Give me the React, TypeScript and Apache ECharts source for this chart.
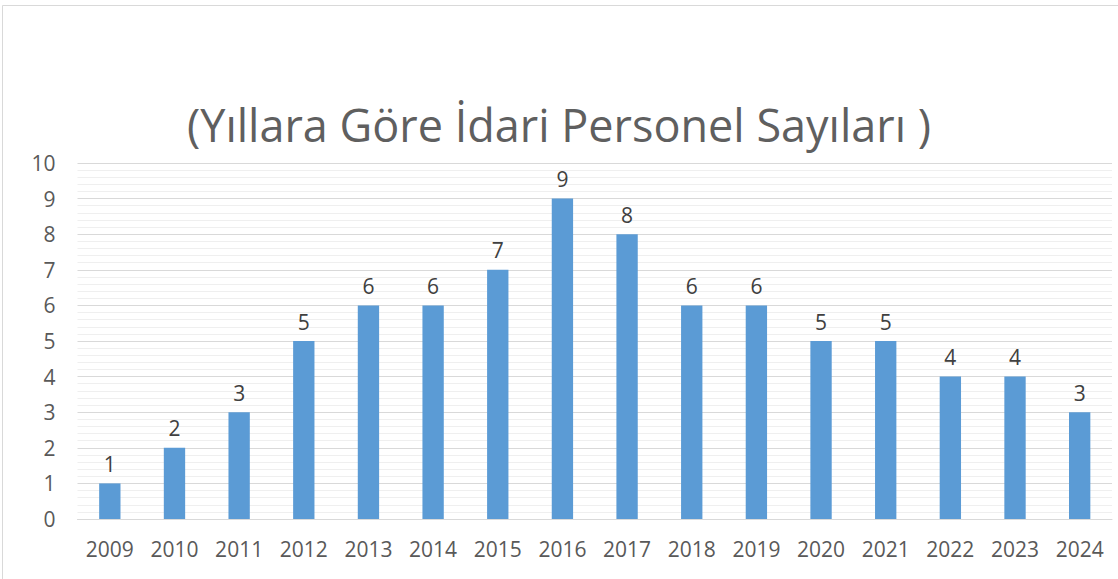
import React, { useEffect, useRef } from "react";
import * as echarts from "echarts";

const years = ["2009","2010","2011","2012","2013","2014","2015","2016","2017","2018","2019","2020","2021","2022","2023","2024"];
const counts = [1, 2, 3, 5, 6, 6, 7, 9, 8, 6, 6, 5, 5, 4, 4, 3];
const titleText = "(Yıllara Göre İdari Personel Sayıları )";

const FONT = "'Open Sans'";

export default function App() {
  const ref = useRef<HTMLDivElement>(null);
  useEffect(() => {
    if (!ref.current) return;
    const chart = echarts.init(ref.current, null, { renderer: "svg" });
    chart.setOption({
      animation: false,
      backgroundColor: "#ffffff",
      textStyle: { fontFamily: FONT },
      title: {
        text: titleText,
        left: "center",
        top: 97,
        textStyle: { fontFamily: FONT, fontSize: 45, fontWeight: "normal", color: "#5f5f5f" },
      },
      graphic: [
        {
          type: "rect",
          shape: { x: 2.5, y: 5.5, width: 1300, height: 800 },
          style: { fill: "none", stroke: "#d9d9d9", lineWidth: 1 },
          silent: true,
          z: -1,
        },
      ],
      grid: { left: 77.5, right: 6, top: 163, bottom: 60, containLabel: false },
      xAxis: {
        type: "category",
        data: years,
        axisLine: { show: true, lineStyle: { color: "#d9d9d9", width: 1 } },
        axisTick: { show: false },
        axisLabel: { color: "#595959", fontSize: 21, fontFamily: FONT, margin: 19 },
      },
      yAxis: {
        type: "value",
        min: 0,
        max: 10,
        interval: 1,
        axisLine: { show: false },
        axisTick: { show: false },
        axisLabel: { color: "#595959", fontSize: 21, fontFamily: FONT, margin: 22 },
        splitLine: { lineStyle: { color: "#d9d9d9", width: 1 } },
        minorTick: { show: false, splitNumber: 5 },
        minorSplitLine: { show: true, lineStyle: { color: "#efefef", width: 1 } },
      },
      series: [
        {
          type: "bar",
          data: counts,
          barWidth: "33%",
          itemStyle: { color: "#5b9bd5" },
          label: {
            show: true,
            position: "top",
            distance: 9,
            color: "#404040",
            fontSize: 21,
            fontFamily: FONT,
          },
        },
      ],
    });
    return () => chart.dispose();
  }, []);
  return (
    <div
      ref={ref}
      style={{ position: "fixed", left: 0, top: 0, width: 1118, height: 579 }}
    />
  );
}
